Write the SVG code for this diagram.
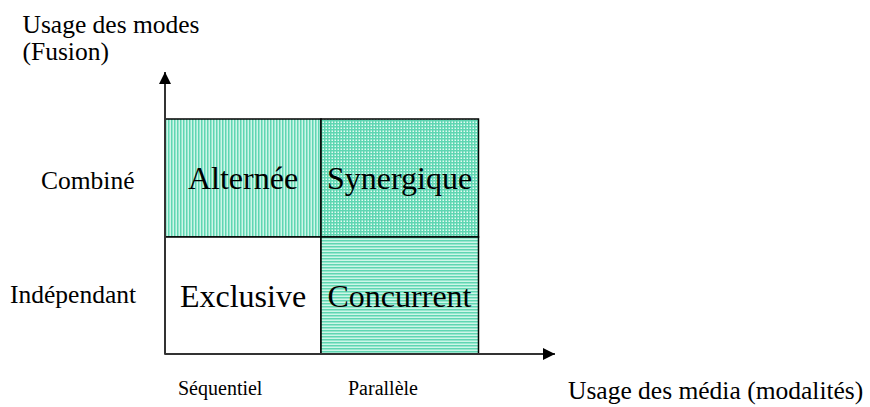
<svg xmlns="http://www.w3.org/2000/svg" width="870" height="407" viewBox="0 0 870 407">
  <style>
    .lbl { font-family: "Liberation Serif", "Times New Roman", serif; font-size: 25.5px; fill: #000; }
    .small { font-size: 20px; }
    .cell-lbl { font-family: "Liberation Serif", "Times New Roman", serif; font-size: 32px; fill: #000; text-anchor: middle; }
    .cell { stroke: #000; stroke-width: 1.5; }
    .axis { stroke: #333; stroke-width: 2; fill: none; }
  </style>
  <defs>
    <pattern id="vstripe" width="3" height="3" patternUnits="userSpaceOnUse">
      <rect width="3" height="3" fill="#cdf6e8"/>
      <rect width="1.5" height="3" fill="#5fd6b2"/>
    </pattern>
    <pattern id="hstripe" width="3" height="3" patternUnits="userSpaceOnUse">
      <rect width="3" height="3" fill="#cdf6e8"/>
      <rect width="3" height="1.5" fill="#5fd6b2"/>
    </pattern>
    <pattern id="grid" width="3" height="3" patternUnits="userSpaceOnUse">
      <rect width="3" height="3" fill="#e4fbf3"/>
      <rect width="1.5" height="3" fill="#5fd6b2"/>
      <rect width="3" height="1.5" fill="#5fd6b2"/>
    </pattern>
    <marker id="arrow" viewBox="0 0 12 12" refX="12" refY="6" markerWidth="12" markerHeight="12" markerUnits="userSpaceOnUse" orient="auto">
      <path d="M0,0 L12,6 L0,12 Z" fill="#000"/>
    </marker>
  </defs>

  <!-- quadrants -->
  <g id="alternee">
    <rect class="cell" x="165" y="119" width="156" height="118" fill="url(#vstripe)"/>
    <text class="cell-lbl" x="243" y="189">Alternée</text>
  </g>
  <g id="synergique">
    <rect class="cell" x="321" y="119" width="157.5" height="118" fill="url(#grid)"/>
    <text class="cell-lbl" x="399.5" y="189">Synergique</text>
  </g>
  <g id="exclusive">
    <rect class="cell" x="165" y="237" width="156" height="117" fill="#fff"/>
    <text class="cell-lbl" x="243" y="307">Exclusive</text>
  </g>
  <g id="concurrent">
    <rect class="cell" x="321" y="237" width="157.5" height="117" fill="url(#hstripe)"/>
    <text class="cell-lbl" x="399.5" y="307">Concurrent</text>
  </g>

  <!-- axes -->
  <g id="connectors">
    <line class="axis" x1="165" y1="354" x2="165" y2="72" marker-end="url(#arrow)"/>
    <line class="axis" x1="165" y1="354" x2="555" y2="354" marker-end="url(#arrow)"/>
  </g>

  <!-- axis labels -->
  <g id="y-axis-label">
    <text class="lbl" x="22.5" y="33">Usage des modes</text>
    <text class="lbl" x="22.5" y="60">(Fusion)</text>
  </g>
  <g id="y-ticks">
    <text class="lbl" x="41" y="189">Combiné</text>
    <text class="lbl" x="10" y="303">Indépendant</text>
  </g>
  <g id="x-ticks">
    <text class="lbl small" x="178" y="395">Séquentiel</text>
    <text class="lbl small" x="348" y="395">Parallèle</text>
  </g>
  <g id="x-axis-label">
    <text class="lbl" x="568" y="399">Usage des média (modalités)</text>
  </g>
</svg>
